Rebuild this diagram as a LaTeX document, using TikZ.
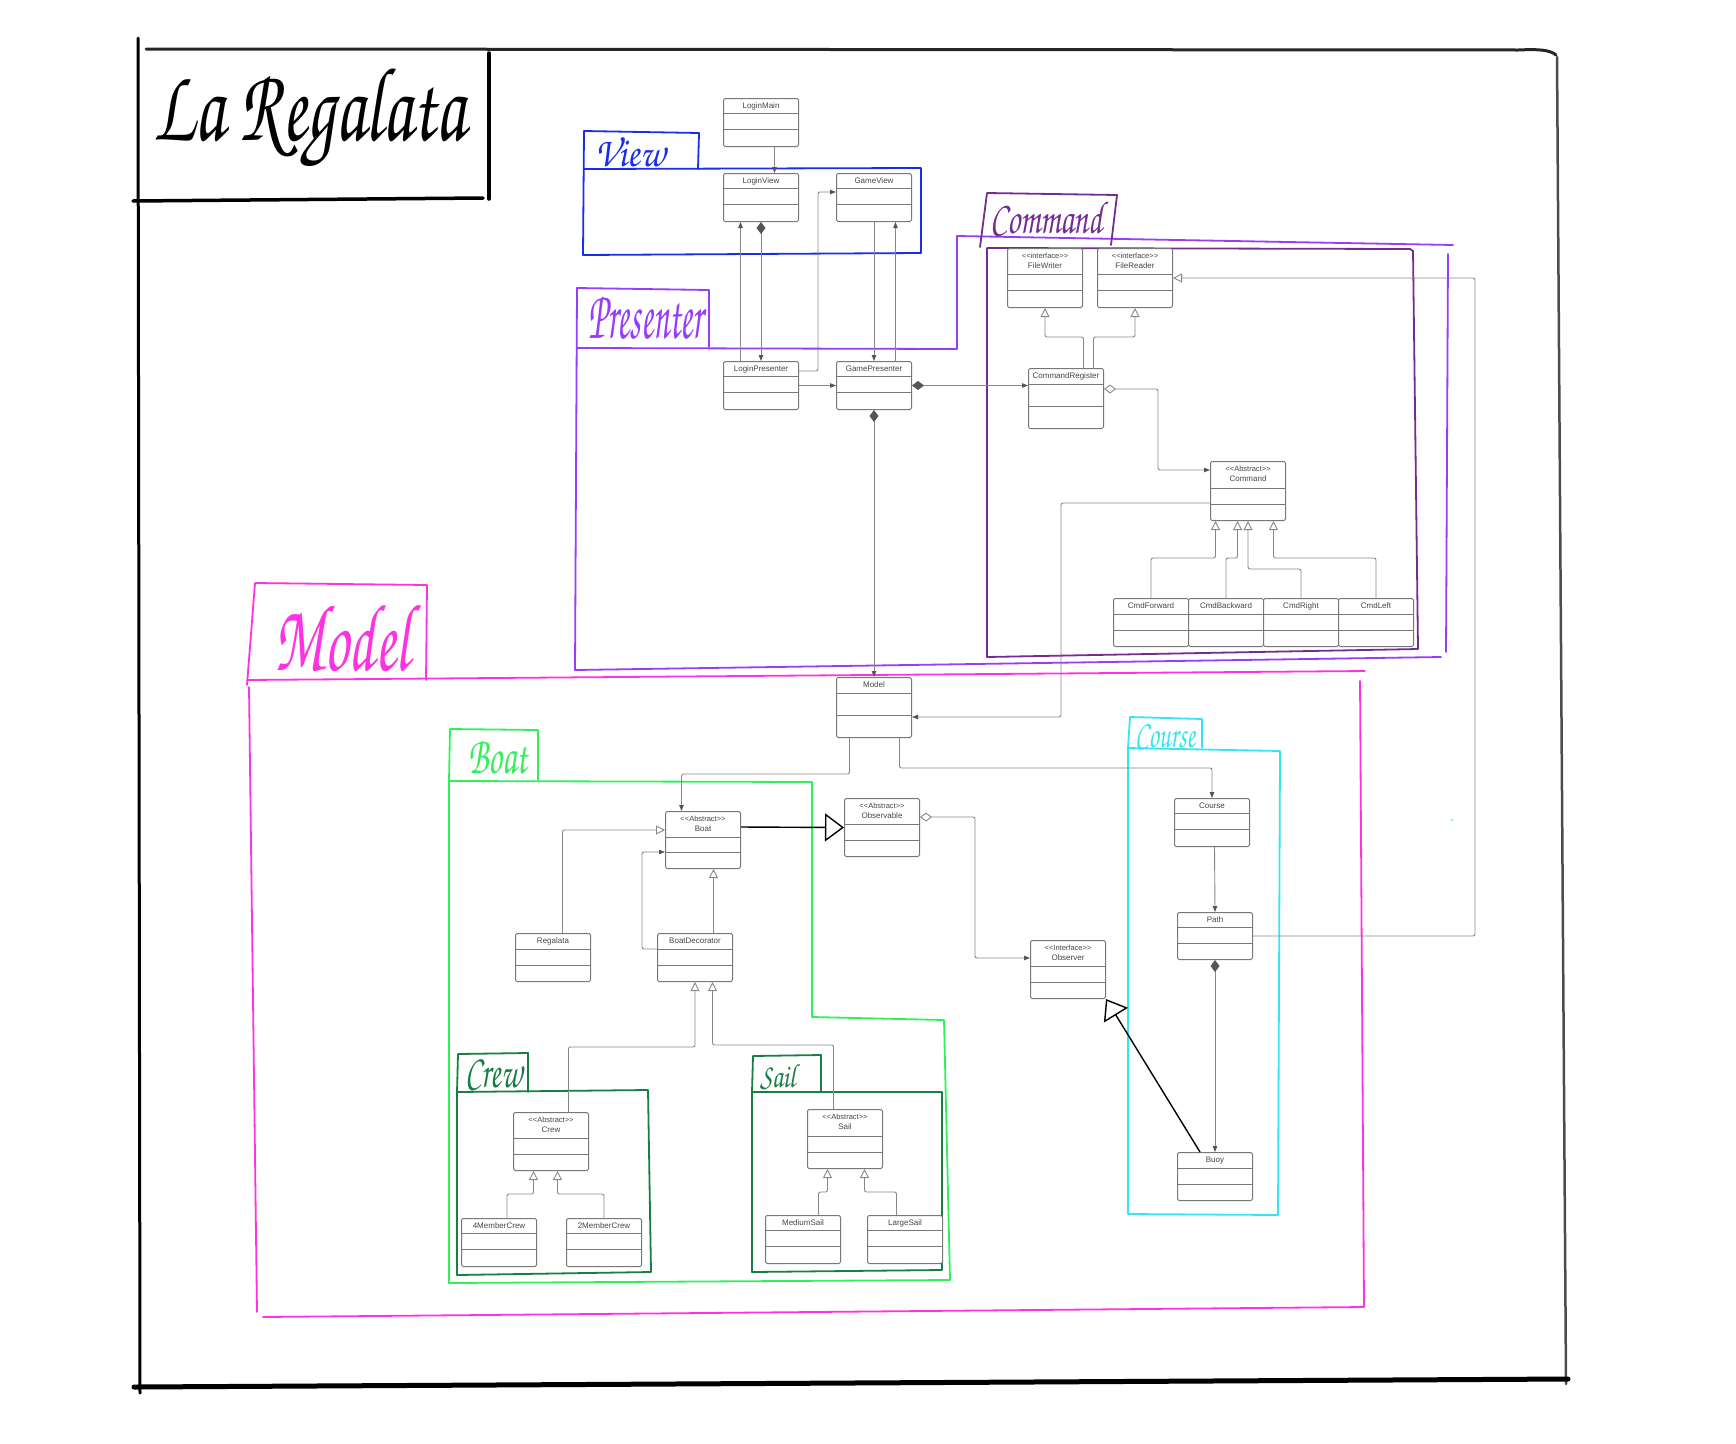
\documentclass[tikz,border=0pt]{standalone}
\usepackage[T1,TU]{fontenc}
\usepackage{fontspec}
\usepackage{graphicx}
\usepackage{tikz}
\usetikzlibrary{arrows.meta,calc}
\newfontfamily\umlfont{Liberation Sans}
\newcommand{\handfont}{\fontencoding{T1}\fontfamily{pzc}\fontseries{mb}\fontshape{it}\selectfont}
\definecolor{viewblue}{RGB}{25,45,235}
\definecolor{presenterviolet}{RGB}{150,60,250}
\definecolor{commandpurple}{RGB}{115,45,145}
\definecolor{modelpink}{RGB}{255,50,225}
\definecolor{boatgreen}{RGB}{50,240,90}
\definecolor{subgreen}{RGB}{25,125,70}
\definecolor{coursecyan}{RGB}{50,230,245}
\definecolor{classgray}{RGB}{120,120,120}
\definecolor{textgray}{RGB}{70,70,70}
\definecolor{linegray}{RGB}{135,135,135}
\definecolor{tipgray}{RGB}{85,85,85}
\tikzset{
  class-box/.style={draw=classgray, line width=1pt, fill=white, rounded corners=1.5pt,
    minimum width=75pt, inner sep=0pt},
  class-line/.style={draw=classgray, line width=1pt},
  class-title/.style={font=\umlfont\fontsize{8}{9.6}\selectfont, text=textgray, inner sep=0pt, anchor=base},
  stereo-title/.style={font=\umlfont\fontsize{7.5}{9}\selectfont, text=textgray, inner sep=0pt, anchor=base},
  assoc-arrow/.style={draw=linegray, line width=0.9pt, rounded corners=2pt,
    -{Triangle[length=6pt, width=4.5pt, color=tipgray]}},
  inherit-arrow/.style={draw=linegray, line width=0.9pt, rounded corners=2pt,
    -{Triangle[open, length=9pt, width=9pt, fill=white]}},
  comp-arrow/.style={draw=linegray, line width=0.9pt, rounded corners=2pt,
    {Diamond[length=12pt, width=9pt, color=tipgray]}-{Triangle[length=6pt, width=4.5pt, color=tipgray]}},
  agg-arrow/.style={draw=linegray, line width=0.9pt, rounded corners=2pt,
    {Diamond[open, length=12pt, width=9pt, fill=white]}-{Triangle[length=6pt, width=4.5pt, color=tipgray]}},
  sketch-inherit/.style={draw=black, line width=1.4pt,
    -{Triangle[open, length=19pt, width=28pt, line width=1.4pt, fill=white]}},
  pkg-frame/.style={line width=1.8pt, line join=round, line cap=round},
  pkg-label/.style={anchor=base west, inner sep=0pt},
  outer-frame/.style={draw=black, line width=3pt, line cap=round}
}
% class with a one-line title: name, top-left, height, header height, title
\newcommand{\umlclass}[5]{%
  \node[class-box, minimum height=#3pt, anchor=north west] (#1) at (#2) {};
  \draw[class-line] ([yshift=-#4pt]#1.north west) -- ([yshift=-#4pt]#1.north east);
  \pgfmathsetmacro\secondrule{#4+(#3-#4)/2}
  \draw[class-line] ([yshift=-\secondrule pt]#1.north west) -- ([yshift=-\secondrule pt]#1.north east);
  \node[class-title] at ([yshift=-10.5pt]#1.north) {#5};
}
% class with a stereotype line: name, top-left, height, header height, stereotype, title
\newcommand{\umlstereo}[6]{%
  \node[class-box, minimum height=#3pt, anchor=north west] (#1) at (#2) {};
  \draw[class-line] ([yshift=-#4pt]#1.north west) -- ([yshift=-#4pt]#1.north east);
  \pgfmathsetmacro\secondrule{#4+(#3-#4)/2}
  \draw[class-line] ([yshift=-\secondrule pt]#1.north west) -- ([yshift=-\secondrule pt]#1.north east);
  \node[stereo-title] at ([yshift=-10pt]#1.north) {\textless\textless #5\textgreater\textgreater};
  \node[class-title] at ([yshift=-20pt]#1.north) {#6};
}

\begin{document}
\begin{tikzpicture}[x=1pt,y=-1pt]
\useasboundingbox (0,0) rectangle (1736,1443);
% sheet frame and title box
\draw[outer-frame] (138,38) -- (140,1393);
\draw[outer-frame, draw=black!85] (146,49) -- (1518,50) .. controls (1540,49) and (1550,50) .. (1556,55);
\draw[outer-frame, draw=black!70, line width=2.5pt] (1557,57) -- (1566,1384);
\draw[outer-frame, line width=5pt] (134,1387) -- (1568,1379);
\draw[outer-frame, line width=3.5pt] (489,53) -- (489,199);
\draw[outer-frame, line width=3.5pt] (133,201) -- (483,198);
\node[pkg-label] (titlelabel) at (153,140) {\resizebox{312pt}{75pt}{\handfont La Regalata}};

% package frames
\draw[pkg-frame, viewblue] (584,131) -- (699,133) -- (698,169);
\draw[pkg-frame, viewblue] (584,169) -- (921,168) -- (921,253) -- (583,255) -- (584,131);
\node[pkg-label, text=viewblue] (viewlabel) at (595,166) {\resizebox{70pt}{30pt}{\handfont View}};

\draw[pkg-frame, presenterviolet] (577,288) -- (709,290) -- (709,347);
\draw[pkg-frame, presenterviolet] (577,348) -- (957,349) -- (957,236) -- (1453,245);
\draw[pkg-frame, presenterviolet] (1448,254) -- (1446,652);
\draw[pkg-frame, presenterviolet] (1441,657) -- (575,670) -- (577,288);
\node[pkg-label, text=presenterviolet] (presenterlabel) at (588,338) {\resizebox{115pt}{43pt}{\handfont Presenter}};

\draw[pkg-frame, commandpurple] (980,247) -- (987,193) -- (1117,195) -- (1111,245);
\draw[pkg-frame, commandpurple] (987,248) -- (1410,249) -- (1413,251) -- (1418,649) -- (987,657) -- (987,248);
\node[pkg-label, text=commandpurple] (commandlabel) at (990,233) {\resizebox{113pt}{33pt}{\handfont Command}};

\draw[pkg-frame, modelpink] (247,685) -- (255,583) -- (427,585) -- (426,680);
\draw[pkg-frame, modelpink] (247,680) -- (1365,671);
\draw[pkg-frame, modelpink] (1360,681) -- (1364,1307) -- (263,1317);
\draw[pkg-frame, modelpink] (257,1312) -- (249,687);
\node[pkg-label, text=modelpink] (modellabel) at (274,670) {\resizebox{136pt}{68pt}{\handfont Model}};

\draw[pkg-frame, boatgreen] (449,781) -- (450,729) -- (538,730) -- (538,780);
\draw[pkg-frame, boatgreen] (449,781) -- (812,782) -- (812,1017) -- (944,1020) -- (950,1280) -- (449,1283) -- (449,781);
\node[pkg-label, text=boatgreen] (boatlabel) at (468,773) {\resizebox{59pt}{35pt}{\handfont Boat}};

\draw[pkg-frame, subgreen] (457,1092) -- (458,1054) -- (528,1053) -- (528,1092);
\draw[pkg-frame, subgreen] (457,1092) -- (648,1090) -- (651,1272) -- (457,1275) -- (457,1092);
\node[pkg-label, text=subgreen] (crewlabel) at (465,1087) {\resizebox{57pt}{29pt}{\handfont Crew}};

\draw[pkg-frame, subgreen] (752,1092) -- (753,1056) -- (821,1055) -- (821,1092);
\draw[pkg-frame, subgreen] (752,1092) -- (942,1092) -- (942,1270) -- (752,1272) -- (752,1092);
\node[pkg-label, text=subgreen] (saillabel) at (760,1087) {\resizebox{35pt}{24pt}{\handfont Sail}};

\draw[pkg-frame, coursecyan] (1128,748) -- (1130,717) -- (1202,719) -- (1202,748);
\draw[pkg-frame, coursecyan] (1128,748) -- (1280,751) -- (1278,1215) -- (1128,1214) -- (1128,748);
\node[pkg-label, text=coursecyan] (courselabel) at (1135,747) {\resizebox{60pt}{24pt}{\handfont Course}};
\fill[coursecyan] (1452,820) circle (1pt);

% view and presenter classes
\umlclass{loginmain}{723,98}{48}{15}{LoginMain}
\umlclass{loginview}{723,173}{48}{15}{LoginView}
\umlclass{gameview}{836,173}{48}{15}{GameView}
\umlclass{loginpresenter}{723,361}{48}{15}{LoginPresenter}
\umlclass{gamepresenter}{836,361}{48}{15}{GamePresenter}
% command classes
\umlstereo{filewriter}{1007,248}{59}{26}{interface}{FileWriter}
\umlstereo{filereader}{1097,248}{59}{26}{interface}{FileReader}
\umlclass{cmdregister}{1028,368}{60}{16}{CommandRegister}
\umlstereo{command}{1210,461}{59}{27}{Abstract}{Command}
\umlclass{cmdforward}{1113,598}{48}{16}{CmdForward}
\umlclass{cmdbackward}{1188,598}{48}{16}{CmdBackward}
\umlclass{cmdright}{1263,598}{48}{16}{CmdRight}
\umlclass{cmdleft}{1338,598}{48}{16}{CmdLeft}
% model classes
\umlclass{model}{836,677}{60}{16}{Model}
\umlstereo{boat}{665,811}{57}{26}{Abstract}{Boat}
\umlstereo{observable}{844,798}{58}{26}{Abstract}{Observable}
\umlclass{regalata}{515,933}{48}{16}{Regalata}
\umlclass{boatdecorator}{657,933}{48}{16}{BoatDecorator}
\umlstereo{observer}{1030,940}{58}{26}{Interface}{Observer}
\umlclass{course}{1174,798}{48}{15}{Course}
\umlclass{path}{1177,912}{47}{15}{Path}
\umlclass{buoy}{1177,1152}{48}{16}{Buoy}
\umlstereo{crew}{513,1112}{58}{26}{Abstract}{Crew}
\umlclass{fourcrew}{461,1218}{48}{15}{4MemberCrew}
\umlclass{twocrew}{566,1218}{48}{15}{2MemberCrew}
\umlstereo{sail}{807,1109}{59}{27}{Abstract}{Sail}
\umlclass{mediumsail}{765,1215}{48}{15}{MediumSail}
\umlclass{largesail}{867,1215}{48}{15}{LargeSail}

% view / presenter links
\draw[assoc-arrow] ([xshift=13.5pt]loginmain.south) -- ([xshift=13.5pt]loginview.north);
\draw[assoc-arrow] ([xshift=-20.5pt]loginpresenter.north) -- ([xshift=-20.5pt]loginview.south);
\draw[comp-arrow] (loginview.south) -- (loginpresenter.north);
\draw[assoc-arrow] ([yshift=-10pt]loginpresenter.north east) -- ++(19,0) |- ([yshift=-19pt]gameview.north west);
\draw[assoc-arrow] (gameview.south) -- (gamepresenter.north);
\draw[assoc-arrow] ([xshift=21.5pt]gamepresenter.north) -- ([xshift=21.5pt]gameview.south);
\draw[assoc-arrow] (loginpresenter.east) -- (gamepresenter.west);
\draw[comp-arrow] (gamepresenter.east) -- (gamepresenter.east -| cmdregister.west);
\draw[comp-arrow] (gamepresenter.south) -- (model.north);
% command links
\draw[inherit-arrow] ([xshift=17.5pt]cmdregister.north) -- ++(0,-31) -| (filewriter.south);
\draw[inherit-arrow] ([xshift=27.5pt]cmdregister.north) -- ++(0,-31) -| (filereader.south);
\draw[agg-arrow] ([yshift=-21pt]cmdregister.north east) -- ++(54,0) |- ([yshift=-9pt]command.north west);
\draw[assoc-arrow] ([yshift=-42pt]command.north west) -- ++(-149,0) |- ([yshift=-40pt]model.north east);
\draw[inherit-arrow] (cmdforward.north) -- ++(0,-40) -| ([xshift=-32.5pt]command.south);
\draw[inherit-arrow] (cmdbackward.north) -- ++(0,-40) -| ([xshift=-10.5pt]command.south);
\draw[inherit-arrow] (cmdright.north) -- ++(0,-29) -| (command.south);
\draw[inherit-arrow] (cmdleft.north) -- ++(0,-40) -| ([xshift=25.5pt]command.south);
\draw[inherit-arrow] (path.east) -- ++(222,0) |- (filereader.east);
% model links
\draw[assoc-arrow] ([xshift=-24.5pt]model.south) -- ++(0,36) -| ([xshift=-21.5pt]boat.north);
\draw[assoc-arrow] ([xshift=25.5pt]model.south) -- ++(0,30) -| (course.north);
\draw[inherit-arrow] ([xshift=9.5pt]regalata.north) |- ([yshift=-19pt]boat.north west);
\draw[inherit-arrow] ([xshift=18.5pt]boatdecorator.north) -- ([xshift=10.5pt]boat.south);
\draw[assoc-arrow] ([yshift=-16pt]boatdecorator.north west) -- ++(-15,0) |- ([yshift=-41pt]boat.north west);
\draw[inherit-arrow] ([xshift=17.5pt]crew.north) -- ++(0,-65) -| (boatdecorator.south);
\draw[inherit-arrow] ([xshift=-11.5pt]sail.north) -- ++(0,-64) -| ([xshift=17.5pt]boatdecorator.south);
\draw[inherit-arrow] ([xshift=8pt]fourcrew.north) -- ++(0,-24) -| ([xshift=-17.5pt]crew.south);
\draw[inherit-arrow] (twocrew.north) -- ++(0,-24) -| ([xshift=6.5pt]crew.south);
\draw[inherit-arrow] ([xshift=15.5pt]mediumsail.north) -- ++(0,-23) -| ([xshift=-17.5pt]sail.south);
\draw[inherit-arrow] ([xshift=-8.5pt]largesail.north) -- ++(0,-23) -| ([xshift=19.5pt]sail.south);
\draw[agg-arrow] ([yshift=-19pt]observable.north east) -- ++(55,0) |- ([yshift=-18pt]observer.north west);
\draw[assoc-arrow] ([xshift=2.5pt]course.south) -- (path.north);
\draw[comp-arrow] (path.south) -- (buoy.north);
% hand-drawn observer links
\draw[sketch-inherit] ([yshift=-16pt]boat.north east) -- (observable.west);
\draw[sketch-inherit] ([xshift=23pt]buoy.north west) -- (observer.south east);
\end{tikzpicture}
\end{document}
